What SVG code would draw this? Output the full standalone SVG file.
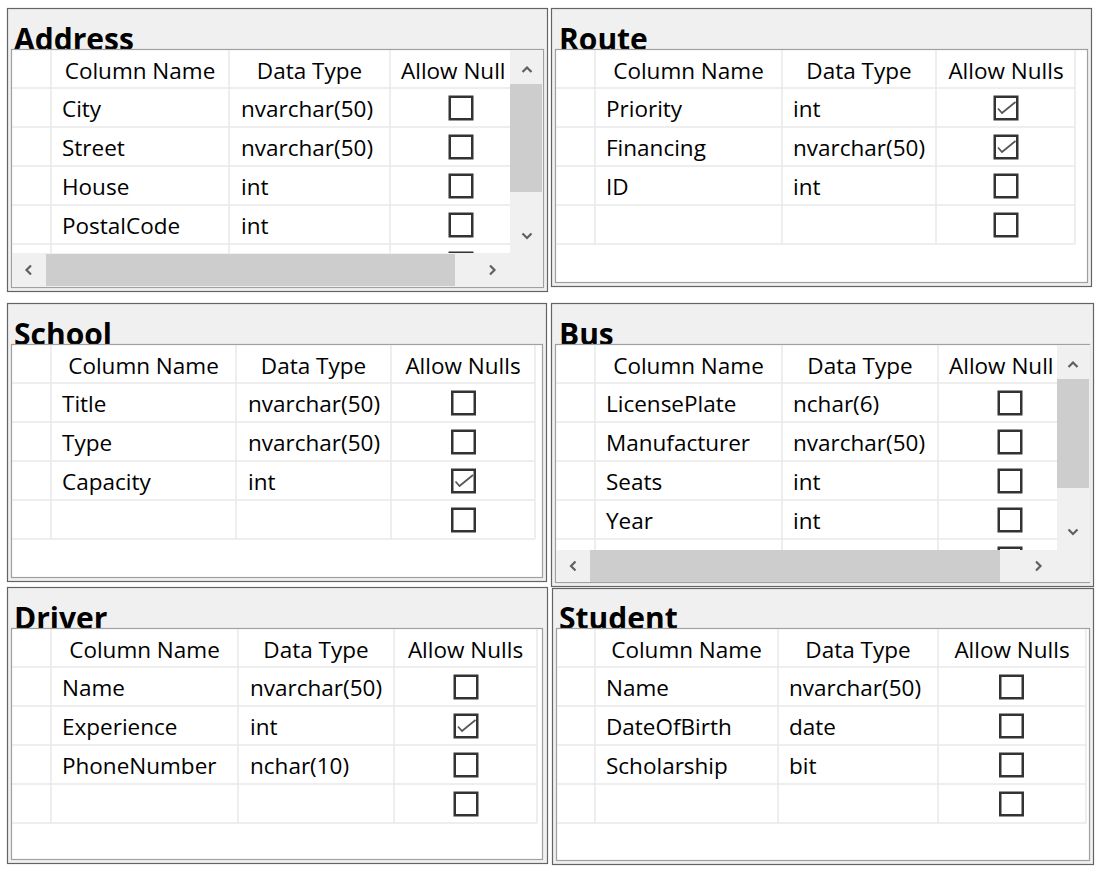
<svg xmlns="http://www.w3.org/2000/svg" xmlns:xlink="http://www.w3.org/1999/xlink" width="1100" height="869" viewBox="0 0 1100 869">
<style>
.outer{fill:#f0f0f0;stroke:#646464;stroke-width:1.2}
.inner{fill:#ffffff;stroke:#a0a0a0;stroke-width:1.2}
.title{font-family:"Open Sans","Noto Sans",sans-serif;font-weight:bold;font-size:30px;fill:#000}
.t{font-family:"Open Sans","Noto Sans",sans-serif;font-size:22.5px;fill:#000}
.h{text-anchor:middle}
.g{stroke:#e9e9e9;stroke-width:1.5;fill:none}
.cb{fill:#fff;stroke:#333;stroke-width:2.5}
.ck{fill:none;stroke:#555;stroke-width:1.7}
.sb{fill:#f0f0f0}
.th{fill:#cdcdcd}
.ar{fill:none;stroke:#606060;stroke-width:2.2}
</style>
<defs>
<g id="box"><rect x="-11.25" y="-11.25" width="22.5" height="22.5" class="cb"/></g>
<g id="chk"><rect x="-11.25" y="-11.25" width="22.5" height="22.5" class="cb"/><path class="ck" d="M-8,0.5 L-4,5 L9.5,-6"/></g>
<clipPath id="clipA"><rect x="12" y="50" width="498" height="203"/></clipPath>
<clipPath id="clipB"><rect x="556" y="345" width="501" height="205"/></clipPath>
</defs>

<g id="table-address">
<rect class="outer" x="7.5" y="8.5" width="540" height="283"/>
<text class="title" x="14" y="49.5">Address</text>
<rect class="inner" x="11.5" y="49.5" width="532" height="238"/>
<g clip-path="url(#clipA)">
<path class="g" d="M12,88H510M12,127H510M12,166H510M12,205H510M12,244H510M51,50V253M229,50V253M390,50V253"/>
<use xlink:href="#box" x="461" y="264"/>
</g>
<text class="t h" x="140" y="79">Column Name</text>
<text class="t h" x="309.5" y="79">Data Type</text>
<text class="t" x="401" y="79">Allow Null</text>
<text class="t" x="62" y="117">City</text><text class="t" x="241" y="117">nvarchar(50)</text><use xlink:href="#box" x="461" y="108"/>
<text class="t" x="62" y="156">Street</text><text class="t" x="241" y="156">nvarchar(50)</text><use xlink:href="#box" x="461" y="147"/>
<text class="t" x="62" y="195">House</text><text class="t" x="241" y="195">int</text><use xlink:href="#box" x="461" y="186"/>
<text class="t" x="62" y="234">PostalCode</text><text class="t" x="241" y="234">int</text><use xlink:href="#box" x="461" y="225"/>
<rect class="sb" x="510" y="50" width="33" height="237"/>
<rect class="th" x="510" y="84" width="32" height="108"/>
<path class="ar" d="M522.5,72L527,67.5L531.5,72M522.5,233.5L527,238L531.5,233.5"/>
<rect class="sb" x="12" y="253" width="498" height="34"/>
<rect class="th" x="46" y="254" width="409" height="32"/>
<path class="ar" d="M31,265.5L26.5,270L31,274.5M490,265.5L494.5,270L490,274.5"/>
</g>

<g id="table-route">
<rect class="outer" x="551.5" y="8.5" width="540" height="278"/>
<text class="title" x="559" y="49.5">Route</text>
<rect class="inner" x="555.5" y="49.5" width="532" height="233"/>
<path class="g" d="M556,88H1075M556,127H1075M556,166H1075M556,205H1075M556,244H1075M595,50V244M782,50V244M936,50V244M1075,50V244"/>
<text class="t h" x="688.5" y="79">Column Name</text>
<text class="t h" x="859" y="79">Data Type</text>
<text class="t h" x="1006" y="79">Allow Nulls</text>
<text class="t" x="606" y="117">Priority</text><text class="t" x="793" y="117">int</text><use xlink:href="#chk" x="1006" y="108"/>
<text class="t" x="606" y="156">Financing</text><text class="t" x="793" y="156">nvarchar(50)</text><use xlink:href="#chk" x="1006" y="147"/>
<text class="t" x="606" y="195">ID</text><text class="t" x="793" y="195">int</text><use xlink:href="#box" x="1006" y="186"/>
<use xlink:href="#box" x="1006" y="225"/>
</g>

<g id="table-school">
<rect class="outer" x="7.5" y="303.5" width="539" height="278"/>
<text class="title" x="14" y="344.5">School</text>
<rect class="inner" x="11.5" y="344.5" width="531" height="233"/>
<path class="g" d="M12,383H535M12,422H535M12,461H535M12,500H535M12,539H535M51,345V539M236,345V539M391,345V539M535,345V539"/>
<text class="t h" x="143.5" y="374">Column Name</text>
<text class="t h" x="313.5" y="374">Data Type</text>
<text class="t h" x="463" y="374">Allow Nulls</text>
<text class="t" x="62" y="412">Title</text><text class="t" x="248" y="412">nvarchar(50)</text><use xlink:href="#box" x="463.5" y="403"/>
<text class="t" x="62" y="451">Type</text><text class="t" x="248" y="451">nvarchar(50)</text><use xlink:href="#box" x="463.5" y="442"/>
<text class="t" x="62" y="490">Capacity</text><text class="t" x="248" y="490">int</text><use xlink:href="#chk" x="463.5" y="481"/>
<use xlink:href="#box" x="463.5" y="520"/>
</g>

<g id="table-bus">
<rect class="outer" x="551.5" y="303.5" width="542" height="283"/>
<text class="title" x="559" y="344.5">Bus</text>
<rect class="inner" x="555.5" y="344.5" width="534" height="238"/>
<g clip-path="url(#clipB)">
<path class="g" d="M556,383H1057M556,422H1057M556,461H1057M556,500H1057M556,539H1057M595,345V550M782,345V550M938,345V550"/>
<use xlink:href="#box" x="1010" y="559"/>
</g>
<text class="t h" x="688.5" y="374">Column Name</text>
<text class="t h" x="860" y="374">Data Type</text>
<text class="t" x="949" y="374">Allow Null</text>
<text class="t" x="606" y="412">LicensePlate</text><text class="t" x="793" y="412">nchar(6)</text><use xlink:href="#box" x="1010" y="403"/>
<text class="t" x="606" y="451">Manufacturer</text><text class="t" x="793" y="451">nvarchar(50)</text><use xlink:href="#box" x="1010" y="442"/>
<text class="t" x="606" y="490">Seats</text><text class="t" x="793" y="490">int</text><use xlink:href="#box" x="1010" y="481"/>
<text class="t" x="606" y="529">Year</text><text class="t" x="793" y="529">int</text><use xlink:href="#box" x="1010" y="520"/>
<rect class="sb" x="1057" y="345" width="33" height="237"/>
<rect class="th" x="1057" y="379" width="32" height="109"/>
<path class="ar" d="M1068.5,367L1073,362.5L1077.5,367M1068.5,529.5L1073,534L1077.5,529.5"/>
<rect class="sb" x="556" y="550" width="501" height="32"/>
<rect class="th" x="590" y="550" width="410" height="32"/>
<path class="ar" d="M575.5,561.5L571,566L575.5,570.5M1036,561.5L1040.5,566L1036,570.5"/>
</g>

<g id="table-driver">
<rect class="outer" x="7.5" y="587.5" width="540" height="276"/>
<text class="title" x="14" y="628.5">Driver</text>
<rect class="inner" x="11.5" y="628.5" width="531" height="231"/>
<path class="g" d="M12,667H537M12,706H537M12,745H537M12,784H537M12,823H537M51,629V823M238,629V823M394,629V823M537,629V823"/>
<text class="t h" x="144.5" y="658">Column Name</text>
<text class="t h" x="316" y="658">Data Type</text>
<text class="t h" x="465.5" y="658">Allow Nulls</text>
<text class="t" x="62" y="696">Name</text><text class="t" x="250" y="696">nvarchar(50)</text><use xlink:href="#box" x="466" y="687"/>
<text class="t" x="62" y="735">Experience</text><text class="t" x="250" y="735">int</text><use xlink:href="#chk" x="466" y="726"/>
<text class="t" x="62" y="774">PhoneNumber</text><text class="t" x="250" y="774">nchar(10)</text><use xlink:href="#box" x="466" y="765"/>
<use xlink:href="#box" x="466" y="804"/>
</g>

<g id="table-student">
<rect class="outer" x="552.5" y="588.5" width="541" height="276"/>
<text class="title" x="559" y="628.5">Student</text>
<rect class="inner" x="556.5" y="628.5" width="533" height="232"/>
<path class="g" d="M557,667H1086M557,706H1086M557,745H1086M557,784H1086M557,823H1086M595,629V823M778,629V823M938,629V823M1086,629V823"/>
<text class="t h" x="686.5" y="658">Column Name</text>
<text class="t h" x="858" y="658">Data Type</text>
<text class="t h" x="1012" y="658">Allow Nulls</text>
<text class="t" x="606" y="696">Name</text><text class="t" x="789" y="696">nvarchar(50)</text><use xlink:href="#box" x="1011.5" y="687"/>
<text class="t" x="606" y="735">DateOfBirth</text><text class="t" x="789" y="735">date</text><use xlink:href="#box" x="1011.5" y="726"/>
<text class="t" x="606" y="774">Scholarship</text><text class="t" x="789" y="774">bit</text><use xlink:href="#box" x="1011.5" y="765"/>
<use xlink:href="#box" x="1011.5" y="804"/>
</g>

<g id="connectors"></g>
</svg>
